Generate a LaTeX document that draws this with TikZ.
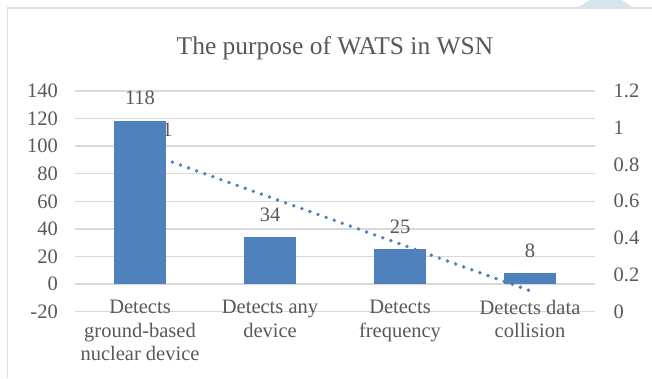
\documentclass[tikz,border=0pt]{standalone}
\usepackage{fontspec}
\setmainfont{Liberation Serif}
\definecolor{barblue}{RGB}{79,129,189}
\definecolor{gridgray}{RGB}{217,217,217}
\definecolor{framegray}{RGB}{222,222,222}
\definecolor{txtgray}{RGB}{89,89,89}
\definecolor{haze}{RGB}{214,228,238}
\tikzset{
  gridline/.style={draw=gridgray, line width=1.3pt},
  frameline/.style={draw=framegray, line width=1.5pt},
  lbl/.style={text=txtgray, inner sep=0pt, font=\fontsize{20.5}{23.5}\selectfont},
  cat/.style={lbl, align=center},
  charttitle/.style={text=txtgray, inner sep=0pt, font=\fontsize{25.5}{30}\selectfont},
  bar/.style={fill=barblue, draw=none, inner sep=0pt, minimum width=52pt, anchor=south},
  trend/.style={draw=barblue, line width=3.8pt, line cap=round, dash pattern=on 0pt off 8.6pt}
}
\begin{document}
\begin{tikzpicture}[x=1pt,y=-1pt]
\useasboundingbox (0,0) rectangle (652,378);
\fill[white] (0,0) rectangle (652,378);
% soft patch at the top edge and the chart frame
\fill[haze] (590,0) -- (622,0) -- (632,7) -- (578,7) -- cycle;
\draw[frameline] (7.5,378) -- (7.5,8) -- (652,8);
% title
\node[charttitle] (title) at (335,48) {The purpose of WATS in WSN};
% horizontal gridlines and primary axis labels
\foreach \v in {-20,0,20,40,60,80,100,120,140}{
  \draw[gridline] (75,{284-\v*1.3786}) -- (595,{284-\v*1.3786});
  \node[lbl, anchor=east] (left\v) at (58,{284-\v*1.3786}) {\v};
}
% secondary axis labels
\foreach \r/\t in {0/0,1/0.2,2/0.4,3/0.6,4/0.8,5/1,6/1.2}{
  \node[lbl, anchor=west] (right\r) at (613.5,{311.6-\r*36.77}) {\t};
}
% linear trend of the secondary series
\coordinate (trendA) at (140,150.5);
\coordinate (trendB) at (530,290.7);
\draw[trend] (trendA) -- (trendB);
\node[lbl] (ptlabel) at (167.5,130) {1};
% bars
\node[bar, minimum height={118*1.3786}] (bar1) at (140,284) {};
\node[bar, minimum height={34*1.3786}]  (bar2) at (270,284) {};
\node[bar, minimum height={25*1.3786}]  (bar3) at (400,284) {};
\node[bar, minimum height={8*1.3786}]   (bar4) at (530,284) {};
% data labels
\node[lbl] (val1) at (140,98) {118};
\node[lbl] (val2) at (270,215) {34};
\node[lbl] (val3) at (400,227) {25};
\node[lbl] (val4) at (530,251) {8};
% category labels
\node[cat, anchor=north] (cat1) at (140,300) {Detects\\ground-based\\nuclear device};
\node[cat, anchor=north] (cat2) at (270,300) {Detects any\\device};
\node[cat, anchor=north] (cat3) at (400,300) {Detects\\frequency};
\node[cat, anchor=north] (cat4) at (530,300) {Detects data\\collision};
\end{tikzpicture}
\end{document}
